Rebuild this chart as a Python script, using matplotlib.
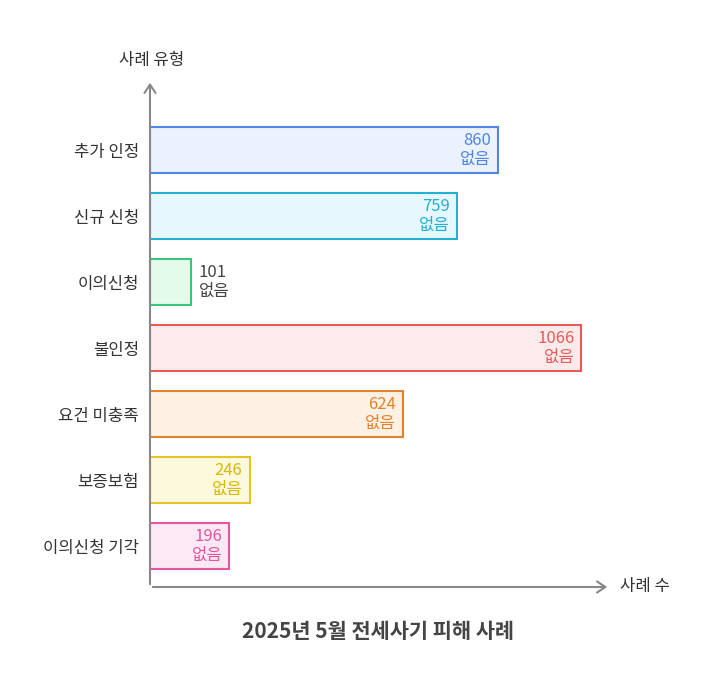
import matplotlib
matplotlib.use("Agg")
import matplotlib.pyplot as plt
from matplotlib import font_manager as fm
import glob

fam = None
for f in glob.glob("/usr/share/fonts/**/*CJK*", recursive=True) + glob.glob("/usr/local/share/fonts/**/*CJK*", recursive=True):
    try:
        fm.fontManager.addfont(f)
    except Exception:
        pass
names = {f.name for f in fm.fontManager.ttflist}
for n in ["Noto Sans CJK KR", "Noto Sans CJK JP", "Noto Sans CJK SC", "Noto Sans CJK TC"]:
    if n in names:
        fam = n
        break
plt.rcParams["font.family"] = [fam] if fam else ["Noto Sans CJK KR", "DejaVu Sans"]

categories = ["추가 인정", "신규 신청", "이의신청", "불인정", "요건 미충족", "보증보험", "이의신청 기각"]
values = [860, 759, 101, 1066, 624, 246, 196]
sublabel = "없음"
edges = ["#4f86e6", "#22b0d6", "#3cc47e", "#e85a5a", "#e2822e", "#e3c52a", "#e356a0"]
fills = ["#ecf2fd", "#e6f8fd", "#e3fbeb", "#fdebeb", "#fdf1e3", "#fdf9dc", "#fde9f4"]
texts = ["#4f86e6", "#22b0d6", "#444444", "#e85a5a", "#e2822e", "#d9b800", "#e356a0"]

W, H = 714, 696
fig = plt.figure(figsize=(W/100, H/100), dpi=100)
x0, x1, ytop, ybot = 150, 610, 80, 587
ax = fig.add_axes([x0/W, 1-ybot/H, (x1-x0)/W, (ybot-ytop)/H])
scale = 348/860
ax.set_xlim(0, (x1-x0)/scale)
ax.set_ylim((ybot-150)/66, (ytop-150)/66)
for s in ax.spines.values():
    s.set_visible(False)
ax.set_xticks([])
ax.set_yticks(range(len(categories)))
ax.set_yticklabels(categories, fontsize=12, color="#333333")
ax.tick_params(axis="y", length=0, pad=8)

for i, v in enumerate(values):
    ax.barh(i, v, height=0.7, color=fills[i], edgecolor=edges[i], linewidth=1.5)
    if v * scale > 60:
        ax.text(v - 7/scale, i, f"{v}\n{sublabel}", ha="right", va="center",
                fontsize=12, color=texts[i], linespacing=1.1)
    else:
        ax.text(v + 8/scale, i, f"{v}\n{sublabel}", ha="left", va="center",
                fontsize=12, color=texts[i], linespacing=1.1)

ac = "#888888"
fig.patches.append(matplotlib.patches.FancyArrowPatch((x0/W, 1-ybot/H), (x0/W, 1-(ytop)/H),
    transform=fig.transFigure, arrowstyle="->,head_width=4,head_length=6", color=ac, lw=1.5))
fig.patches.append(matplotlib.patches.FancyArrowPatch((x0/W, 1-ybot/H), (x1/W, 1-ybot/H),
    transform=fig.transFigure, arrowstyle="->,head_width=4,head_length=6", color=ac, lw=1.5))
fig.text(152/W, 1-60/H, "사례 유형", ha="center", va="center", fontsize=12, color="#333333")
fig.text(620/W, 1-587/H, "사례 수", ha="left", va="center", fontsize=12, color="#333333")
fig.text(378/W, 1-632/H, "2025년 5월 전세사기 피해 사례", ha="center", va="center",
         fontsize=15, fontweight="bold", color="#444444")
fig.savefig("out.png", dpi=100, facecolor="white")
